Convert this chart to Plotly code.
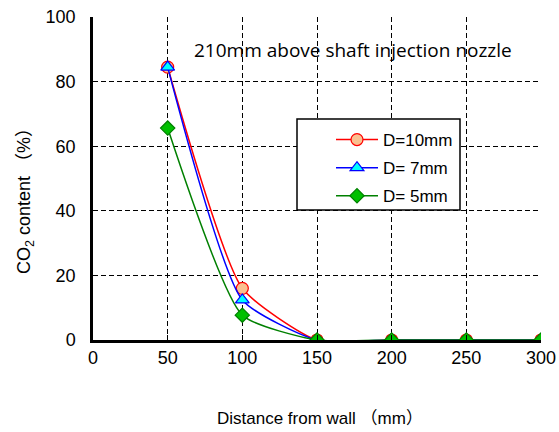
import plotly.graph_objects as go

distance = [50, 100, 150, 200, 250, 300]
d10 = [84.5, 16.0, 0.0, 0.0, 0.0, 0.0]
d7 = [84.5, 12.4, 0.0, 0.0, 0.0, 0.0]
d5 = [65.6, 7.7, 0.0, 0.0, 0.0, 0.0]
series_names = ["D=10mm", "D= 7mm", "D= 5mm"]

FONT = "Liberation Sans, Arial, Noto Sans CJK JP, sans-serif"

L, R, T, B = 93, 18, 17, 92
W, H = 559, 432
PW, PH = W - L - R, H - T - B

def px_x(p):
    return (p - L) / PW

def px_y(p):
    return (H - B - p) / PH

fig = go.Figure()
styles = [
    (d10, "red", "circle", 12, "#FAC090", "red"),
    (d7, "blue", "triangle-up", 12, "#00FFFF", "blue"),
    (d5, "#008000", "diamond", 11, "#00C000", "#008000"),
]
for i, (vals, lc, sym, sz, fc, mc) in enumerate(styles):
    fig.add_trace(go.Scatter(
        x=distance, y=vals, name=series_names[i], mode="lines+markers",
        line=dict(color=lc, width=1.5, shape="spline", smoothing=0.55),
        marker=dict(symbol=sym, size=sz, color=fc, line=dict(color=mc, width=1.2)),
        legendgroup=f"g{i}",
    ))

fig.add_annotation(x=px_x(353), y=px_y(50), xref="paper", yref="paper",
                   text="210mm above shaft injection nozzle", showarrow=False,
                   xanchor="center", yanchor="middle",
                   font=dict(size=19, color="black", family="Open Sans, sans-serif"))

fig.add_annotation(x=px_x(320), y=px_y(418), xref="paper", yref="paper",
                   text="Distance from wall （mm）", showarrow=False,
                   xanchor="center", yanchor="middle",
                   font=dict(size=17, color="black", family=FONT))

fig.add_annotation(x=px_x(25), y=px_y(197), xref="paper", yref="paper",
                   text="CO<sub>2</sub> content （%）", showarrow=False, textangle=-90,
                   xanchor="center", yanchor="middle",
                   font=dict(size=18, color="black", family=FONT))

fig.add_shape(type="rect", xref="paper", yref="paper",
              x0=px_x(297), x1=px_x(460), y0=px_y(210), y1=px_y(119),
              line=dict(color="black", width=1.5), fillcolor="white", layer="above")

fig.update_layout(
    width=W, height=H,
    margin=dict(l=L, r=R, t=T, b=B, autoexpand=False),
    paper_bgcolor="white", plot_bgcolor="white",
    font=dict(family=FONT, color="black", size=18),
    showlegend=True,
    legend=dict(x=px_x(331), y=px_y(122), xanchor="left", yanchor="top",
                bgcolor="rgba(0,0,0,0)", borderwidth=0,
                font=dict(size=17, family=FONT), tracegroupgap=3,
                traceorder="grouped", itemwidth=42),
    xaxis=dict(range=[0, 300], tickvals=[0, 50, 100, 150, 200, 250, 300],
               showgrid=True, gridcolor="black", griddash="5px,3px", gridwidth=1,
               showline=True, linecolor="black", linewidth=2.5, mirror=False,
               ticks="inside", ticklen=5, tickcolor="black", automargin=False,
               zeroline=False, tickfont=dict(size=18)),
    yaxis=dict(range=[0, 100], tickvals=[0, 20, 40, 60, 80, 100],
               showgrid=True, gridcolor="black", griddash="5px,3px", gridwidth=1,
               showline=True, linecolor="black", linewidth=2.5, mirror=False,
               ticks="inside", ticklen=5, tickcolor="black", automargin=False,
               ticklabelstandoff=11,
               zeroline=False, tickfont=dict(size=18)),
)

fig.write_html("out.html")
